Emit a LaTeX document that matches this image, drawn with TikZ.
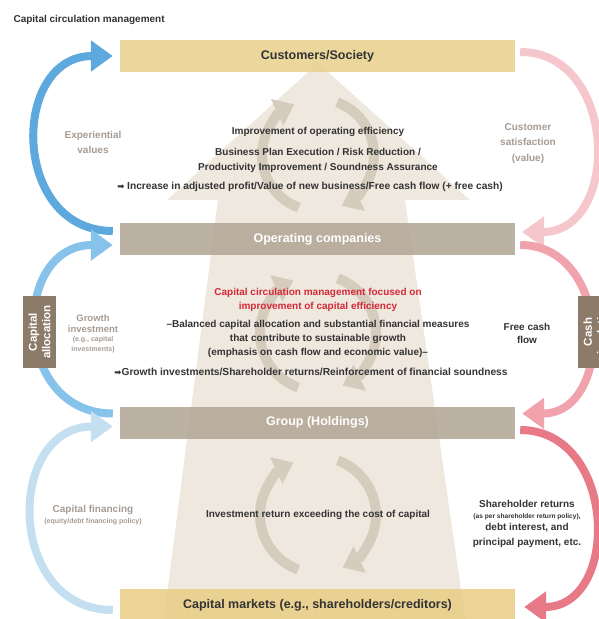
\documentclass[tikz,border=0pt]{standalone}
\usepackage{fontspec}
\setmainfont{Liberation Sans}
\newfontfamily\symfont{DejaVu Sans}
\usepackage{xcolor}
\usetikzlibrary{positioning}
\usetikzlibrary{arrows.meta}

\definecolor{inktext}{HTML}{333333}
\definecolor{softtext}{HTML}{A69B93}
\definecolor{redtext}{HTML}{D62839}
\definecolor{goldbox}{HTML}{E8D28E}
\definecolor{greybox}{HTML}{B3A797}
\definecolor{sidebrown}{HTML}{8C7B68}
\definecolor{arrowbeige}{HTML}{EEE8DE}
\definecolor{cyclebeige}{HTML}{D6CCBE}
\definecolor{blueA}{HTML}{5DA9DD}
\definecolor{blueB}{HTML}{86C2E9}
\definecolor{blueC}{HTML}{C4DFF0}
\definecolor{pinkA}{HTML}{F5C6CB}
\definecolor{pinkB}{HTML}{F0A3AD}
\definecolor{pinkC}{HTML}{E87A88}

\newcommand\arr{{\symfont\fontsize{8.5}{8.5}\selectfont ➡}}
\newcommand\cyclepair[2]{% centre name, radius
  \draw[cyc] ([shift={(250:#2)}]#1) arc[start angle=250, end angle=115, radius=#2];
  \draw[cyc] ([shift={(70:#2)}]#1) arc[start angle=70, end angle=-65, radius=#2];}

\begin{document}
\begin{tikzpicture}
  [x=1pt, y=-1pt,
   box/.style = {minimum width=395pt, minimum height=32pt, inner sep=0pt,
                 fill opacity=0.88, text opacity=1,
                 font=\fontsize{12.5}{14}\selectfont\bfseries},
   sidebox/.style = {fill=sidebrown, text=white, minimum width=72pt, minimum height=33pt,
                     inner sep=0pt, rotate=90, align=center,
                     font=\fontsize{11.5}{13.5}\selectfont\bfseries},
   body/.style = {text=inktext, align=center, font=\fontsize{10}{15}\selectfont\bfseries},
   soft/.style = {text=softtext, align=center, font=\fontsize{10}{15}\selectfont\bfseries},
   tiny/.style = {align=center, font=\fontsize{7}{10}\selectfont\bfseries},
   cyc/.style = {draw=cyclebeige, line width=10pt, -{Triangle[length=19pt,width=28pt]}},
   side/.style = {line width=8pt, -{Triangle[length=22pt,width=30pt]}}]

  \useasboundingbox (0,0) rectangle (599,619);

  % big upward arrow
  \fill[arrowbeige] (318,63) -- (470,200) -- (405,200) -- (466,625)
    -- (163,625) -- (218,200) -- (167,200) -- cycle;

  % turning arrows inside
  \coordinate (turnA) at (318,155);
  \coordinate (turnB) at (318,333);
  \coordinate (turnC) at (318,515);
  \cyclepair{turnA}{56pt}
  \cyclepair{turnB}{58pt}
  \cyclepair{turnC}{58pt}

  % the four levels
  \node[box, fill=goldbox, text=inktext] (cust) at (317.5,56) {Customers/Society};
  \node[box, fill=greybox, text=white] (ops) at (317.5,239) {Operating companies};
  \node[box, fill=greybox, text=white] (group) at (317.5,422.5) {Group (Holdings)};
  \node[box, fill=goldbox!95!orange, text=inktext] (market) at (317.5,605)
    {Capital markets (e.g., shareholders/creditors)};

  % arrows on the left
  \draw[side, draw=blueA] ([shift={(-7,-8)}]ops.west)
    to[out=180, in=180, looseness=1.5] ([xshift=-7pt]cust.west);
  \draw[side, draw=blueB] ([shift={(-7,-9)}]group.west)
    to[out=180, in=180, looseness=1.55] ([shift={(-7,6)}]ops.west);
  \draw[side, draw=blueC] ([shift={(-7,5)}]market.west)
    to[out=180, in=180, looseness=1.5] ([shift={(-7,4)}]group.west);

  % arrows on the right
  \draw[side, draw=pinkA] ([shift={(5,-4)}]cust.east)
    to[out=0, in=0, looseness=1.4] ([shift={(7,-7)}]ops.east);
  \draw[side, draw=pinkB] ([shift={(5,6)}]ops.east)
    to[out=0, in=0, looseness=1.4] ([shift={(7,-9)}]group.east);
  \draw[side, draw=pinkC] ([shift={(5,7.5)}]group.east)
    to[out=0, in=0, looseness=1.4] ([shift={(9,2)}]market.east);

  \node[sidebox] (alloc) at (39.5,332) {Capital\\allocation};
  \node[sidebox] (cashbox) at (594.5,332) {Cash\\circulation};

  % title
  \node[anchor=west, text=inktext, font=\fontsize{10}{12}\selectfont\bfseries] (title)
    at (10,20) {Capital circulation management};

  % texts in the middle
  \node[body] (opeff) at (318,132) {Improvement of operating efficiency};
  \node[body] (plan) at (318,160.5)
    {Business Plan Execution / Risk Reduction /\\Productivity Improvement / Soundness Assurance};
  \node[body, font=\fontsize{10.2}{15}\selectfont\bfseries] (profit) at (310,187)
    {\arr\ Increase in adjusted profit/Value of new business/Free cash flow (+ free cash)};
  \node[body, text=redtext, font=\fontsize{10}{14}\selectfont\bfseries] (focus) at (318,300)
    {Capital circulation management focused on\\improvement of capital efficiency};
  \node[body, font=\fontsize{10}{14}\selectfont\bfseries] (balance) at (318,339)
    {–Balanced capital allocation and substantial financial measures\\
     that contribute to sustainable growth\\
     (emphasis on cash flow and economic value)–};
  \node[body, font=\fontsize{10.2}{15}\selectfont\bfseries] (growthline) at (311,372)
    {\arr Growth investments/Shareholder returns/Reinforcement of financial soundness};
  \node[body] (retcost) at (318,515) {Investment return exceeding the cost of capital};

  % texts on the sides
  \node[soft] (expval) at (93,142.5) {Experiential\\values};
  \node[soft, font=\fontsize{9.5}{11}\selectfont\bfseries] (growth) at (93,323.5)
    {Growth\\investment};
  \node[tiny, text=softtext] (growthsub) at (93,345) {(e.g., capital\\investments)};
  \node[soft] (capfin) at (93,510) {Capital financing};
  \node[tiny, text=softtext] (capfinsub) at (93,522) {(equity/debt financing policy)};

  \node[soft, font=\fontsize{10}{15.5}\selectfont\bfseries] (custsat) at (528,143.5)
    {Customer\\satisfaction\\(value)};
  \node[body, font=\fontsize{10}{13}\selectfont\bfseries] (fcf) at (527,333.5)
    {Free cash\\flow};
  \node[body] (sharet) at (527,504) {Shareholder returns};
  \node[tiny, text=inktext, font=\fontsize{6.6}{8}\selectfont\bfseries] (sharesub) at (527,517)
    {(as per shareholder return policy),};
  \node[body] (debt) at (527,535) {debt interest, and\\principal payment, etc.};

\end{tikzpicture}
\end{document}
